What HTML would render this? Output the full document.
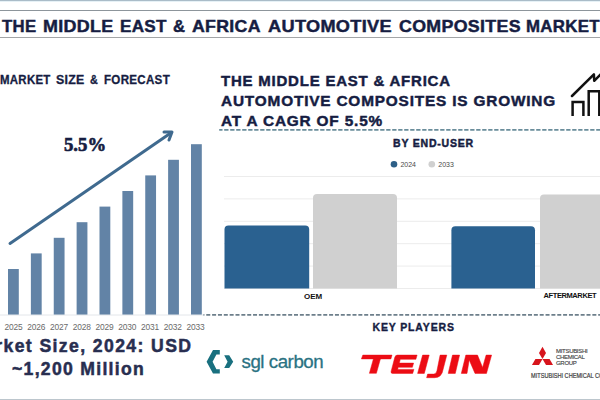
<!DOCTYPE html>
<html><head><meta charset="utf-8">
<style>
html,body{margin:0;padding:0;background:#fff;}
body{width:600px;height:400px;position:relative;overflow:hidden;font-family:"Liberation Sans",sans-serif;}
.a{position:absolute;white-space:nowrap;}
.navy{color:#161d42;-webkit-text-stroke:0.45px #161d42;}
</style></head>
<body>
<!-- top band -->
<div class="a" style="left:0;top:0;width:600px;height:1px;background:#aabcc8;"></div>
<div class="a" style="left:0;top:1px;width:600px;height:1px;background:#e6f1f6;"></div>
<div class="a" style="left:0;top:10px;width:600px;height:1px;background:#8d959b;"></div>
<div class="a" style="left:0;top:37px;width:600px;height:1px;background:#a3a5a7;"></div>
<div class="a" style="left:0;top:399px;width:600px;height:1px;background:#bcc6cd;"></div>

<!-- title -->
<div id="title" class="a navy" style="left:0;top:16.6px;font-size:16.9px;font-weight:bold;line-height:20px;letter-spacing:0.3px;"><span id="tw0" class="a" style="left:2.04px;top:0;transform-origin:0 0;transform:scaleX(0.9915);">THE</span><span id="tw1" class="a" style="left:42.94px;top:0;transform-origin:0 0;transform:scaleX(1.0605);">MIDDLE</span><span id="tw2" class="a" style="left:119.53px;top:0;transform-origin:0 0;transform:scaleX(1.0127);">EAST</span><span id="tw3" class="a" style="left:173.46px;top:0;transform-origin:0 0;transform:scaleX(0.9844);">&amp;</span><span id="tw4" class="a" style="left:192.38px;top:0;transform-origin:0 0;transform:scaleX(1.0489);">AFRICA</span><span id="tw5" class="a" style="left:267.58px;top:0;transform-origin:0 0;transform:scaleX(1.0753);">AUTOMOTIVE</span><span id="tw6" class="a" style="left:398.79px;top:0;transform-origin:0 0;transform:scaleX(1.0537);">COMPOSITES</span><span id="tw7" class="a" style="left:526.00px;top:0;transform-origin:0 0;transform:scaleX(0.9973);">MARKET</span></div>

<!-- left section -->
<div id="msf" class="a navy" style="left:0;top:71.5px;font-size:12px;font-weight:bold;line-height:16px;letter-spacing:0.3px;-webkit-text-stroke:0.3px #161d42;"><span id="mw0" class="a" style="left:0.20px;top:0;transform-origin:0 0;transform:scaleX(0.9529);">MARKET</span><span id="mw1" class="a" style="left:56.21px;top:0;transform-origin:0 0;transform:scaleX(1.0270);">SIZE</span><span id="mw2" class="a" style="left:89.95px;top:0;transform-origin:0 0;transform:scaleX(0.9034);">&amp;</span><span id="mw3" class="a" style="left:104.10px;top:0;transform-origin:0 0;transform:scaleX(0.9649);">FORECAST</span></div>
<div id="cagr" class="a navy" style="left:64px;top:135px;transform-origin:0 0;transform:scaleX(1.04);-webkit-text-stroke:0.6px #161d42;font-family:'Liberation Serif',serif;font-size:18px;font-weight:bold;line-height:20px;">5.5%</div>

<svg class="a" style="left:0;top:0" width="600" height="400">
  <g fill="#6283a6">
    <rect x="8.00" y="269.0" width="10.8" height="46.0"/>
    <rect x="30.88" y="253.4" width="10.8" height="61.6"/>
    <rect x="53.75" y="237.8" width="10.8" height="77.2"/>
    <rect x="76.62" y="222.2" width="10.8" height="92.8"/>
    <rect x="99.50" y="206.6" width="10.8" height="108.4"/>
    <rect x="122.38" y="191.0" width="10.8" height="124.0"/>
    <rect x="145.25" y="175.4" width="10.8" height="139.6"/>
    <rect x="168.12" y="159.8" width="10.8" height="155.2"/>
    <rect x="191.00" y="144.2" width="10.8" height="170.8"/>
  </g>
  <line x1="0" y1="315" x2="204" y2="315" stroke="#e3e6ea" stroke-width="1"/>
  <g stroke="#3f6a8f" stroke-width="3" fill="none" stroke-linecap="round" stroke-linejoin="round">
    <line x1="10" y1="243.5" x2="170" y2="133.5"/>
    <polyline points="164,132 172,132 169,140"/>
  </g>
</svg>

<div id="years" class="a" style="left:0;top:321.6px;font-size:8.4px;color:#6a6a6a;letter-spacing:-0.2px;line-height:10px;"><span class="a" style="left:4.60px;top:0">2025</span><span class="a" style="left:27.35px;top:0">2026</span><span class="a" style="left:50.10px;top:0">2027</span><span class="a" style="left:72.85px;top:0">2028</span><span class="a" style="left:95.60px;top:0">2029</span><span class="a" style="left:118.35px;top:0">2030</span><span class="a" style="left:141.10px;top:0">2031</span><span class="a" style="left:163.85px;top:0">2032</span><span class="a" style="left:186.60px;top:0">2033</span></div>

<div id="ms1" class="a navy" style="left:-32px;top:335.7px;font-size:17.6px;letter-spacing:1.4px;color:#282e50;-webkit-text-stroke:0.5px #282e50;font-weight:bold;line-height:20px;">Market Size, 2024: USD</div>
<div id="ms2" class="a navy" style="left:12px;top:359px;font-size:17.6px;letter-spacing:1.3px;color:#282e50;-webkit-text-stroke:0.5px #282e50;font-weight:bold;line-height:20px;">~1,200 Million</div>

<!-- right section -->
<div id="rt" class="a navy" style="left:0;top:71px;font-size:15px;font-weight:bold;line-height:20px;letter-spacing:0.8px;"><span id="rl0" class="a" style="left:221.40px;top:0px;transform-origin:0 0;transform:scaleX(0.9978);">THE MIDDLE EAST &amp; AFRICA</span><span id="rl1" class="a" style="left:221.40px;top:20px;transform-origin:0 0;transform:scaleX(1.0245);">AUTOMOTIVE COMPOSITES IS GROWING</span><span id="rl2" class="a" style="left:221.40px;top:40px;transform-origin:0 0;transform:scaleX(1.0249);">AT A CAGR OF 5.5%</span></div>

<svg class="a" style="left:0;top:0" width="600" height="400">
  <line x1="219.2" y1="129.8" x2="600" y2="129.8" stroke="#6a8d9b" stroke-width="1.7" stroke-dasharray="4.3 1.7" stroke-dashoffset="1"/>
  <line x1="203.5" y1="314.8" x2="600" y2="314.8" stroke="#6d7f8b" stroke-width="1.8" stroke-dasharray="4 1.85" stroke-dashoffset="3.1"/>
  <!-- icon -->
  <g stroke="#111" stroke-width="2.5" fill="none" stroke-linejoin="miter">
    <polyline points="572,96 593.9,74.3 594.2,80.8 601,74" stroke-linejoin="round" stroke-linecap="round"/>
    <polyline points="572.6,116 572.6,102 583.4,102 583.4,116"/>
    <polyline points="588.7,116 588.7,91.2 599.3,91.2 599.3,116"/>
  </g>
  <!-- gridlines -->
  <g stroke="#ececec" stroke-width="1">
    <line x1="224" y1="176.5" x2="600" y2="176.5"/>
    <line x1="224" y1="198.9" x2="600" y2="198.9"/>
    <line x1="224" y1="221.3" x2="600" y2="221.3"/>
    <line x1="224" y1="243.7" x2="600" y2="243.7"/>
    <line x1="224" y1="266.1" x2="600" y2="266.1"/>
    <line x1="224" y1="288.5" x2="600" y2="288.5"/>
  </g>
  <!-- bars -->
  <path fill="#2a6190" d="M224.5,288.5 V229.5 a4,4 0 0 1 4,-4 H305.2 a4,4 0 0 1 4,4 V288.5 Z"/>
  <path fill="#d0d0d0" d="M313,288.5 V198 a4,4 0 0 1 4,-4 H393 a4,4 0 0 1 4,4 V288.5 Z"/>
  <path fill="#2a6190" d="M451.4,288.5 V230.2 a4,4 0 0 1 4,-4 H531 a4,4 0 0 1 4,4 V288.5 Z"/>
  <path fill="#d0d0d0" d="M540,288.5 V198.4 a4,4 0 0 1 4,-4 H640 V288.5 Z"/>
  <!-- legend -->
  <circle cx="394" cy="164.3" r="3.3" fill="#2d5f87"/>
  <circle cx="431.8" cy="164.3" r="3.3" fill="#d0d0d0"/>
</svg>

<div id="beu" class="a navy" style="left:393px;top:136px;font-size:10.5px;letter-spacing:0.8px;font-weight:bold;line-height:14px;">BY END-USER</div>
<div class="a" style="left:400.4px;top:159.6px;font-size:7px;color:#4a4a4a;line-height:10px;">2024</div>
<div class="a" style="left:438.3px;top:159.6px;font-size:7px;color:#4a4a4a;line-height:10px;">2033</div>
<div id="oem" class="a" style="left:304px;top:292px;font-size:8px;font-weight:bold;color:#111;line-height:10px;">OEM</div>
<div id="aft" class="a" style="left:543.5px;top:291px;font-size:7.5px;letter-spacing:-0.4px;font-weight:bold;color:#111;line-height:10px;">AFTERMARKET</div>

<div id="kp" class="a navy" style="left:372.5px;top:319.3px;font-size:10.5px;letter-spacing:0.85px;-webkit-text-stroke:0.35px #161d42;font-weight:bold;line-height:16px;">KEY PLAYERS</div>

<!-- sgl carbon -->
<svg class="a" style="left:0;top:0" width="600" height="400">
  <g fill="#19707f">
    <polygon points="219.8,350 213,350 206.6,361.7 213,373.6 219.8,373.6 219.8,369.2 216.4,369.2 212.6,361.7 216.4,354.4 219.8,354.4"/>
    <polygon points="224.2,355.2 229.2,355.2 233.2,361.7 229.2,368.1 224.2,368.1 227.6,361.7"/>
  </g>
</svg>
<div id="sgl" class="a" style="left:241.5px;top:351px;font-size:18.7px;letter-spacing:-0.45px;color:#2a7282;-webkit-text-stroke:0.3px #2a7282;line-height:22px;">sgl carbon</div>

<!-- teijin -->
<svg id="tj" class="a" style="left:0;top:0" width="600" height="400">
  <g fill="#ec0c14" stroke="#ec0c14" stroke-width="0.5" stroke-linejoin="round">
    <path d="M362.8,355.1 L392,355.1 L390.9,358.9 L361.4,358.9 Z"/>
    <path d="M373.4,358.9 L380.4,358.9 L376.4,373.3 L369.4,373.3 Z"/>
    <path d="M397.4,355.1 L417.1,355.1 L415.9,359.3 L400.3,359.3 L399.3,363.1 L413.6,363.1 L412.4,367.3 L398.2,367.3 L397.7,369.4 L413.9,369.4 L412.7,373.4 L393,373.4 Q390.6,373.4 391.1,371.4 L394.8,357.3 Q395.4,355.1 397.4,355.1 Z"/>
    <path d="M422.6,355.1 L429.2,355.1 L424.3,373.4 L417.6,373.4 Z"/>
    <path d="M440.1,355.1 L446.8,355.1 L443.2,369 Q441.9,377.7 434.5,377.7 L426.6,377.7 L427.6,374.1 L433.8,374.1 Q436.3,374.1 437,370.5 Z"/>
    <path d="M452.5,355.1 L459.6,355.1 L455.3,373.4 L448.2,373.4 Z"/>
    <path d="M465.8,355.1 L477.5,355.1 L482.6,367.4 L486.1,355.1 L491.6,355.1 L486.5,373.4 L475,373.4 L469.2,359.9 L467,373.4 L461.3,373.4 Z"/>
  </g>
</svg>

<!-- mitsubishi -->
<svg class="a" style="left:0;top:0" width="600" height="400">
  <g fill="#d7141c">
    <polygon points="542.50,359.00 546.02,352.90 542.50,346.80 538.98,352.90"/>
    <polygon points="542.50,359.00 535.46,359.00 531.93,365.10 538.98,365.10"/>
    <polygon points="542.50,359.00 546.02,365.10 553.07,365.10 549.54,359.00"/>
  </g>
</svg>
<div id="mcg" class="a" style="left:556px;top:348px;font-size:6px;letter-spacing:-0.3px;color:#444;line-height:6px;-webkit-text-stroke:0.15px #444;">MITSUBISHI<br>CHEMICAL<br>GROUP</div>
<div id="mcc" class="a" style="left:531px;top:372px;font-size:7px;color:#3a3a3a;transform-origin:0 0;transform:scaleX(0.8);-webkit-text-stroke:0.2px #3a3a3a;line-height:8px;">MITSUBISHI CHEMICAL CORPORATION</div>
</body></html>
